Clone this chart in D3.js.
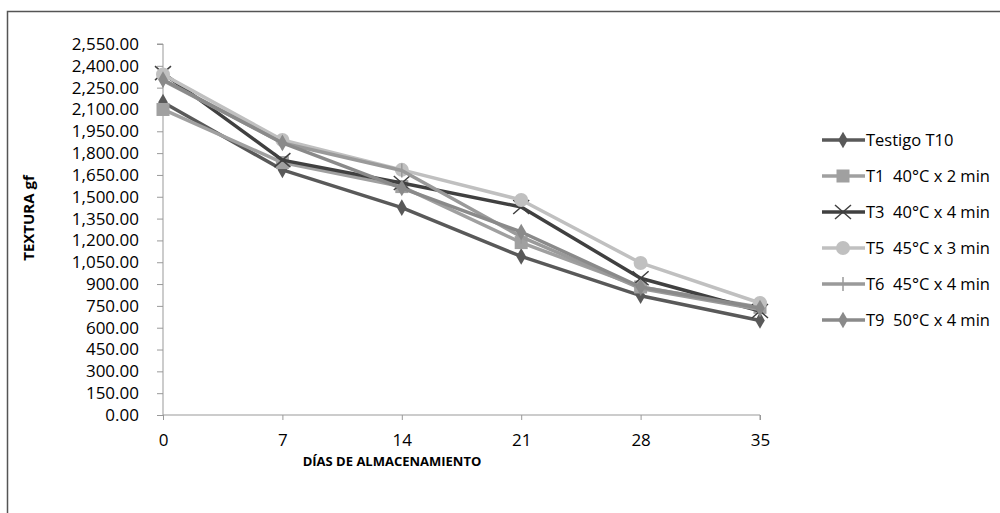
<!DOCTYPE html>
<html>
<head>
<meta charset="utf-8">
<script src="https://cdn.jsdelivr.net/npm/d3@7"></script>
<style>
  body { margin: 0; background: #fff; }
  text { font-family: "Open Sans", sans-serif; white-space: pre; }
</style>
</head>
<body>
<div id="chart"></div>
<script>
// data
var days = [0, 7, 14, 21, 28, 35];
var yTicks = d3.range(0, 2551, 150);
var seriesNames = ["Testigo T10", "T1  40°C x 2 min", "T3  40°C x 4 min", "T5  45°C x 3 min", "T6  45°C x 4 min", "T9  50°C x 4 min"];
var testigoT10 = [2150, 1685, 1425, 1090, 820, 650];
var t1 = [2100, 1735, 1570, 1185, 880, 740];
var t3 = [2350, 1752, 1595, 1430, 940, 715];
var t5 = [2340, 1890, 1685, 1478, 1045, 770];
var t6 = [2300, 1870, 1680, 1225, 870, 725];
var t9 = [2305, 1870, 1560, 1258, 880, 735];

var allValues = [testigoT10, t1, t3, t5, t6, t9];
var colors = ["#595959", "#a0a0a0", "#404040", "#c0c0c0", "#9a9a9a", "#8a8a8a"];
var symbols = ["diamond", "square", "x", "circle", "plus", "diamond"];

var series = seriesNames.map(function (n, i) {
  return { name: n, values: allValues[i], color: colors[i], symbol: symbols[i] };
});

var W = 1000, H = 513;

var svg = d3.select("#chart").append("svg")
  .attr("width", W).attr("height", H);

// chart frame
svg.append("path")
  .attr("d", "M7.5," + H + " V11.5 H" + W)
  .attr("fill", "none")
  .attr("stroke", "#555")
  .attr("stroke-width", 1.5);

var x = d3.scaleLinear().domain([0, 35]).range([163, 760]);
var y = d3.scaleLinear().domain([0, 2550]).range([415, 44]);

// y axis
var yAxis = svg.append("g")
  .attr("transform", "translate(" + x(0) + ",0)")
  .call(d3.axisLeft(y).tickValues(yTicks).tickSize(6).tickPadding(18)
    .tickFormat(d3.format(",.2f")));
yAxis.selectAll("path, line").attr("stroke", "#999");
yAxis.select(".domain").attr("d", "M-6," + y(2550) + "H0V" + y(0));
yAxis.selectAll("text").attr("font-size", 17).attr("fill", "#000")
  .attr("font-family", "'Open Sans', sans-serif");

// x axis
var xAxis = svg.append("g")
  .attr("transform", "translate(0," + y(0) + ")")
  .call(d3.axisBottom(x).tickValues(days).tickSize(5).tickPadding(14));
xAxis.selectAll("path, line").attr("stroke", "#999");
xAxis.select(".domain").attr("d", "M" + x(0) + ",0H" + x(35) + "V5");
xAxis.selectAll("text").attr("font-size", 17).attr("fill", "#000")
  .attr("font-family", "'Open Sans', sans-serif");

// axis titles
svg.append("text")
  .attr("x", 392).attr("y", 466)
  .attr("text-anchor", "middle")
  .attr("font-size", 13).attr("font-weight", "bold")
  .text("DÍAS DE ALMACENAMIENTO");
svg.append("text")
  .attr("transform", "translate(34,218) rotate(-90)")
  .attr("text-anchor", "middle")
  .attr("font-size", 15).attr("font-weight", "bold")
  .text("TEXTURA gf");

var line = d3.line()
  .x(function (d, i) { return x(days[i]); })
  .y(function (d) { return y(d); });

function drawMarker(g, s, cx, cy) {
  if (s.symbol === "diamond") {
    g.append("path").attr("d", d3.symbol(d3.symbolDiamond, 80)())
      .attr("transform", "translate(" + cx + "," + cy + ")")
      .attr("fill", s.color);
  } else if (s.symbol === "square") {
    g.append("rect").attr("x", cx - 6.5).attr("y", cy - 6.5)
      .attr("width", 13).attr("height", 13).attr("fill", s.color);
  } else if (s.symbol === "circle") {
    g.append("circle").attr("cx", cx).attr("cy", cy).attr("r", 7)
      .attr("fill", s.color);
  } else if (s.symbol === "x") {
    g.append("path")
      .attr("d", "M" + (cx - 8) + "," + (cy - 7) + "L" + (cx + 8) + "," + (cy + 7) +
        "M" + (cx - 8) + "," + (cy + 7) + "L" + (cx + 8) + "," + (cy - 7))
      .attr("stroke", s.color).attr("stroke-width", 1.5);
  } else if (s.symbol === "plus") {
    g.append("path")
      .attr("d", "M" + cx + "," + (cy - 7) + "V" + (cy + 7))
      .attr("stroke", s.color).attr("stroke-width", 1.5);
  }
}

// lines and markers
series.forEach(function (s) {
  var g = svg.append("g");
  g.append("path")
    .attr("d", line(s.values))
    .attr("fill", "none")
    .attr("stroke", s.color)
    .attr("stroke-width", 3.5)
    .attr("stroke-linejoin", "round");
  s.values.forEach(function (v, i) {
    drawMarker(g, s, x(days[i]), y(v));
  });
});

// legend
var legend = svg.append("g");
series.forEach(function (s, i) {
  var ly = 140 + i * 36;
  var g = legend.append("g");
  g.append("line")
    .attr("x1", 822).attr("x2", 865)
    .attr("y1", ly).attr("y2", ly)
    .attr("stroke", s.color).attr("stroke-width", 3.5);
  drawMarker(g, s, 843, ly);
  g.append("text")
    .attr("x", 866).attr("y", ly + 6)
    .attr("font-size", 16.5)
    .text(s.name);
});
</script>
</body>
</html>
